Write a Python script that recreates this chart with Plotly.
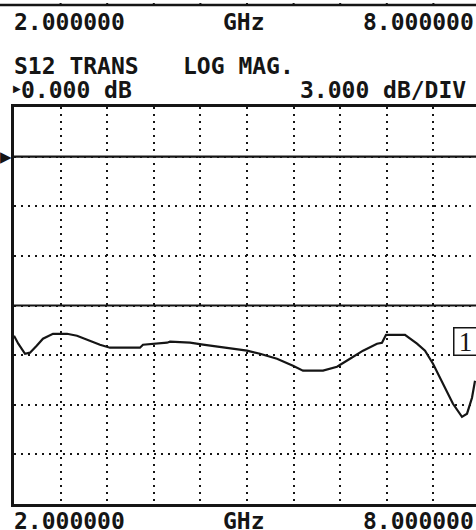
import plotly.graph_objects as go

# ---- data ----
freq_start_ghz = 2.0
freq_stop_ghz = 8.0
ref_level_db = 0.0
scale_db_per_div = 3.0
limit_line_db = -9.0

freq_ghz = [2.000, 2.055, 2.142, 2.206, 2.292, 2.373, 2.502, 2.682, 2.811, 2.979,
            3.107, 3.236, 3.622, 3.661, 3.841, 3.970, 4.009, 4.266, 4.434, 4.743,
            5.000, 5.167, 5.386, 5.592, 5.721, 5.979, 6.159, 6.326, 6.494, 6.674,
            6.738, 6.790, 7.034, 7.189, 7.292, 7.395, 7.524, 7.652, 7.768, 7.833,
            7.897, 7.936]
s12_db = [-10.83, -11.31, -11.92, -11.85, -11.43, -11.01, -10.71, -10.71, -10.83, -11.13,
          -11.37, -11.55, -11.55, -11.37, -11.31, -11.25, -11.19, -11.25, -11.37, -11.55,
          -11.73, -11.92, -12.22, -12.64, -12.94, -12.94, -12.70, -12.22, -11.73, -11.31,
          -11.25, -10.77, -10.77, -11.31, -11.73, -12.52, -13.73, -14.94, -15.73, -15.54,
          -14.58, -13.55]

marker_freq_ghz = 7.652
marker_db = -11.2
marker_label = "1"

header_start = "2.000000"
header_unit = "GHz"
header_stop = "8.000000"
param_label = "S12 TRANS"
format_label = "LOG MAG."
ref_label = "0.000 dB"
scale_label = "3.000 dB/DIV"

# ---- layout geometry ----
W, H = 476, 530
ML, MT, MB, MR = 14, 107, 26, 0
PW = W - ML - MR
PH = H - MT - MB
full_grid_w = 466.0  # full 10-division graticule width (right edge cropped)
x_visible_stop = freq_start_ghz + PW / full_grid_w * (freq_stop_ghz - freq_start_ghz)
y_top = ref_level_db + 1 * scale_db_per_div
y_bot = ref_level_db - 7 * scale_db_per_div

def px_x(px):
    return (px - ML) / PW

def px_y(py):
    return (H - MB - py) / PH

FONT = "DejaVu Sans Mono"
INK = "#151515"

fig = go.Figure()

fig.add_trace(go.Scatter(x=[freq_start_ghz, freq_stop_ghz], y=[ref_level_db, ref_level_db],
                         mode="lines", line=dict(color=INK, width=2.2), hoverinfo="skip"))
fig.add_trace(go.Scatter(x=[freq_start_ghz, freq_stop_ghz], y=[limit_line_db, limit_line_db],
                         mode="lines", line=dict(color=INK, width=2.2), hoverinfo="skip"))
fig.add_trace(go.Scatter(x=freq_ghz, y=s12_db, mode="lines",
                         line=dict(color=INK, width=2.2, shape="linear"), hoverinfo="skip"))

grid_dash = "2px,5px"
fig.update_xaxes(range=[freq_start_ghz, x_visible_stop], tick0=freq_start_ghz,
                 dtick=(freq_stop_ghz - freq_start_ghz) / 10,
                 showgrid=True, gridcolor=INK, gridwidth=2, griddash=grid_dash,
                 showticklabels=False, ticks="", zeroline=False,
                 showline=True, linecolor=INK, linewidth=2.5, mirror=True)
fig.update_yaxes(range=[y_bot, y_top], tick0=ref_level_db, dtick=scale_db_per_div,
                 showgrid=True, gridcolor=INK, gridwidth=2, griddash=grid_dash,
                 showticklabels=False, ticks="", zeroline=False,
                 showline=True, linecolor=INK, linewidth=2.5, mirror=False)

ann = []
def txt(s, xpx, ypx, size=23, anchor="left", family=FONT, bold=True):
    ann.append(dict(text=("<b>%s</b>" % s) if bold else s, x=px_x(xpx), y=px_y(ypx),
                    xref="paper", yref="paper",
                    xanchor=anchor, yanchor="middle", showarrow=False,
                    font=dict(family=family, size=size, color=INK)))

txt(header_start, 12, 22)
txt(header_unit, 221, 22)
txt(header_stop, 361, 22)
txt(param_label, 12, 66)
txt(format_label, 181, 66)
txt("\u25b6", 11, 89, size=10, family="DejaVu Sans", bold=False)
txt(ref_label, 19, 90)
txt(scale_label, 298, 90)
txt(header_start, 12, 521)
txt(header_unit, 221, 521)
txt(header_stop, 361, 521)

# reference arrow at left
ann.append(dict(text="\u25b6", x=px_x(-2), y=ref_level_db, xref="paper", yref="y",
                xanchor="left", yanchor="middle", showarrow=False,
                font=dict(family="DejaVu Sans", size=15, color=INK)))
# marker label box
ann.append(dict(text=marker_label, x=marker_freq_ghz, y=marker_db, xref="x", yref="y",
                xanchor="left", yanchor="middle", showarrow=False,
                width=20, height=24, align="center", valign="middle",
                bordercolor=INK, borderwidth=1.5, borderpad=1, bgcolor="white",
                font=dict(family="Liberation Serif", size=27, color=INK)))

shapes = []
# bottom frame of the previous (cropped) plot above
shapes.append(dict(type="line", xref="paper", yref="paper", x0=px_x(-5), x1=px_x(W),
                   y0=px_y(5), y1=px_y(5), line=dict(color=INK, width=2.5)))
step = (freq_stop_ghz - freq_start_ghz) / 10
for i in range(1, 10):
    fx = freq_start_ghz + i * step
    shapes.append(dict(type="line", xref="x", yref="paper", x0=fx, x1=fx,
                       y0=px_y(5), y1=px_y(-2), line=dict(color=INK, width=2, dash=grid_dash)))

fig.update_layout(width=W, height=H, margin=dict(l=ML, r=MR, t=MT, b=MB, pad=0),
                  paper_bgcolor="white", plot_bgcolor="white", showlegend=False,
                  annotations=ann, shapes=shapes)

fig.write_html("out.html", config={"displayModeBar": False},
               post_script="document.body.style.margin='0';document.body.style.overflow='hidden';")
